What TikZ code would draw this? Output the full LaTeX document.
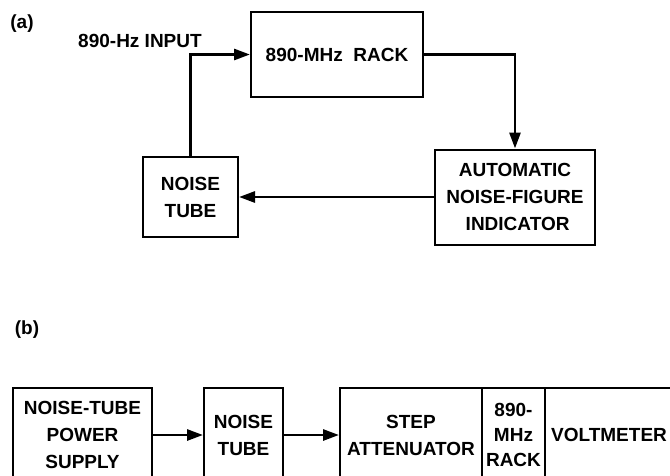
\documentclass[tikz,border=0pt]{standalone}
\usepackage{fontspec}
\setmainfont{Liberation Sans}
\usetikzlibrary{arrows.meta}
\begin{document}
\begin{tikzpicture}[x=1pt,y=-1pt,
  blk/.style={draw, line width=2pt, rectangle, inner sep=0pt, align=center,
    font=\fontsize{19}{27}\selectfont\bfseries},
  lbl/.style={inner sep=0pt, font=\fontsize{19}{27}\selectfont\bfseries},
  conn/.style={line width=2.8pt, -{Triangle[length=16pt,width=11pt]}}]
\useasboundingbox (0,0) rectangle (670,475);
\clip (0,0) rectangle (670,475);
% (a)
\node[lbl] (la) at (22,24) {(a)};
\node[lbl] (inp) at (140,41) {890-Hz INPUT};
\node[blk, minimum width=172pt, minimum height=85pt] (rack) at (337,54.5) {890-MHz\ \ RACK};
\node[blk, minimum width=95pt, minimum height=80pt] (nt) at (190.5,197) {NOISE\\TUBE};
\node[blk, minimum width=160pt, minimum height=95pt] (auto) at (515,197) {AUTOMATIC\\NOISE-FIGURE\\\ INDICATOR};
\draw[conn] (nt.north) |- (rack.west);
\draw[conn] (rack.east) -| (auto.north);
\draw[conn] (auto.west) -- (nt.east);
% (b)
\node[lbl] (lb) at (27,330) {(b)};
\node[blk, minimum width=139pt, minimum height=94pt] (ps) at (82.5,435) {NOISE-TUBE\\POWER\\SUPPLY};
\node[blk, minimum width=79pt, minimum height=94pt] (nt2) at (243.5,435) {NOISE\\TUBE};
\node[blk, minimum width=142pt, minimum height=94pt] (att) at (411,435) {STEP\\ATTENUATOR};
\node[blk, minimum width=63pt, minimum height=94pt, font=\fontsize{19}{25}\selectfont\bfseries] (rk2) at (513.5,435) {890-\\MHz\\RACK};
\node[blk, minimum width=128pt, minimum height=94pt] (vm) at (609,435) {VOLTMETER};
\draw[conn] (ps.east) -- (nt2.west);
\draw[conn] (nt2.east) -- (att.west);
\end{tikzpicture}
\end{document}
